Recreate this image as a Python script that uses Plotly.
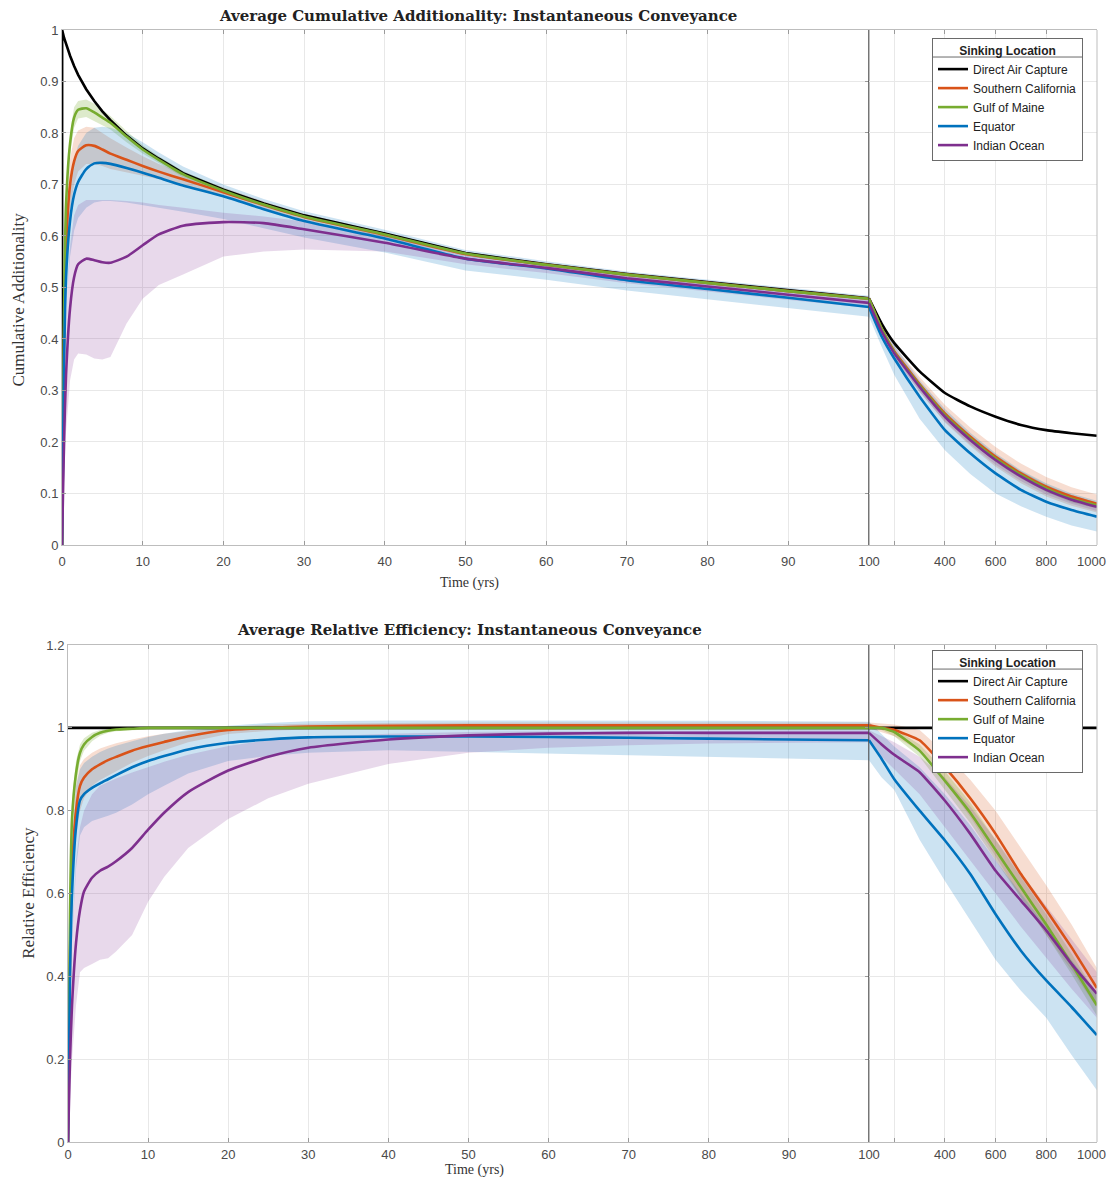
import plotly.graph_objects as go

# ---------------- data ----------------
locations = ["Direct Air Capture", "Southern California", "Gulf of Maine", "Equator", "Indian Ocean"]
line_colors = ["#000000", "#D95319", "#77AC30", "#0072BD", "#7E2F8E"]
band_colors = [None, "rgba(217,83,25,0.20)", "rgba(119,172,48,0.25)",
               "rgba(0,114,189,0.20)", "rgba(126,47,142,0.18)"]

t_early = [0, 0.25, 0.5, 1, 1.5, 2, 3, 4, 5, 6, 8, 10, 12, 15, 20, 25, 30, 40, 50, 60, 70, 80, 90, 100]
t_late = [100, 150, 200, 300, 400, 500, 600, 700, 800, 900, 1000]
t_dac = [0, 0.02, 0.25, 0.5, 1, 1.5, 2, 3, 4, 5, 6, 8, 10, 12, 15, 20, 25, 30, 40, 50, 60, 70, 80, 90, 100]

# ---- Panel 1: cumulative additionality ----
add_dac_early = [0, 1.0, 0.985, 0.972, 0.95, 0.93, 0.913, 0.885, 0.862, 0.842, 0.825, 0.795, 0.77, 0.75,
                 0.722, 0.69, 0.663, 0.64, 0.605, 0.567, 0.545, 0.526, 0.51, 0.494, 0.479]
add_dac_late = [0.479, 0.43, 0.392, 0.337, 0.295, 0.269, 0.249, 0.233, 0.223, 0.217, 0.212]

add_socal_early = [0, 0.4, 0.58, 0.7, 0.745, 0.765, 0.776, 0.775, 0.768, 0.76, 0.748, 0.736, 0.725, 0.71,
                   0.685, 0.66, 0.637, 0.602, 0.565, 0.544, 0.525, 0.509, 0.493, 0.478]
add_socal_late = [0.478, 0.42, 0.376, 0.312, 0.255, 0.21, 0.171, 0.139, 0.113, 0.094, 0.08]
add_socal_hi_early = [0, 0.45, 0.63, 0.75, 0.79, 0.805, 0.812, 0.81, 0.8, 0.79, 0.772, 0.755, 0.74, 0.722,
                      0.694, 0.667, 0.643, 0.607, 0.569, 0.548, 0.529, 0.513, 0.497, 0.482]
add_socal_lo_early = [0, 0.35, 0.53, 0.65, 0.7, 0.725, 0.74, 0.74, 0.736, 0.73, 0.724, 0.717, 0.71, 0.698,
                      0.676, 0.653, 0.631, 0.597, 0.561, 0.54, 0.521, 0.505, 0.489, 0.474]
add_socal_hi_late = [0.482, 0.428, 0.386, 0.326, 0.272, 0.228, 0.19, 0.158, 0.132, 0.112, 0.098]
add_socal_lo_late = [0.474, 0.412, 0.366, 0.298, 0.238, 0.192, 0.152, 0.12, 0.094, 0.076, 0.063]

add_gom_early = [0, 0.45, 0.66, 0.78, 0.83, 0.845, 0.848, 0.84, 0.83, 0.82, 0.793, 0.768, 0.748, 0.72,
                 0.688, 0.661, 0.638, 0.603, 0.566, 0.544, 0.525, 0.509, 0.493, 0.478]
add_gom_late = [0.478, 0.42, 0.374, 0.31, 0.252, 0.207, 0.168, 0.136, 0.11, 0.09, 0.077]
add_gom_hi_early = [0, 0.47, 0.68, 0.8, 0.85, 0.862, 0.865, 0.857, 0.845, 0.833, 0.804, 0.776, 0.755, 0.726,
                    0.693, 0.665, 0.642, 0.607, 0.569, 0.547, 0.528, 0.512, 0.496, 0.481]
add_gom_lo_early = [0, 0.43, 0.64, 0.76, 0.81, 0.828, 0.831, 0.823, 0.815, 0.807, 0.782, 0.76, 0.741, 0.714,
                    0.683, 0.657, 0.634, 0.599, 0.563, 0.541, 0.522, 0.506, 0.49, 0.475]
add_gom_hi_late = [0.481, 0.424, 0.379, 0.316, 0.259, 0.214, 0.175, 0.143, 0.117, 0.097, 0.083]
add_gom_lo_late = [0.475, 0.416, 0.369, 0.304, 0.245, 0.2, 0.161, 0.129, 0.103, 0.083, 0.071]

add_eq_early = [0, 0.35, 0.52, 0.63, 0.68, 0.705, 0.73, 0.741, 0.742, 0.74, 0.732, 0.723, 0.713, 0.698,
                0.677, 0.652, 0.629, 0.595, 0.556, 0.537, 0.514, 0.497, 0.48, 0.462]
add_eq_late = [0.462, 0.405, 0.362, 0.288, 0.223, 0.178, 0.139, 0.107, 0.084, 0.068, 0.055]
add_eq_hi_early = [0, 0.4, 0.58, 0.7, 0.75, 0.775, 0.8, 0.81, 0.812, 0.81, 0.8, 0.782, 0.762, 0.735,
                   0.7, 0.672, 0.648, 0.612, 0.573, 0.551, 0.531, 0.515, 0.499, 0.484]
add_eq_lo_early = [0, 0.3, 0.46, 0.56, 0.61, 0.635, 0.655, 0.665, 0.668, 0.668, 0.665, 0.66, 0.655, 0.647,
                   0.633, 0.615, 0.597, 0.568, 0.533, 0.515, 0.494, 0.477, 0.46, 0.443]
add_eq_hi_late = [0.484, 0.43, 0.388, 0.32, 0.264, 0.218, 0.178, 0.145, 0.12, 0.1, 0.086]
add_eq_lo_late = [0.443, 0.385, 0.33, 0.245, 0.184, 0.138, 0.1, 0.075, 0.055, 0.038, 0.026]

add_ind_early = [0, 0.2, 0.33, 0.46, 0.52, 0.545, 0.556, 0.553, 0.549, 0.548, 0.56, 0.582, 0.603, 0.62,
                 0.627, 0.625, 0.613, 0.587, 0.556, 0.538, 0.518, 0.502, 0.486, 0.47]
add_ind_late = [0.47, 0.415, 0.372, 0.307, 0.249, 0.204, 0.165, 0.133, 0.107, 0.088, 0.074]
add_ind_hi_early = [0, 0.3, 0.45, 0.58, 0.64, 0.66, 0.67, 0.67, 0.67, 0.67, 0.668, 0.665, 0.66, 0.655,
                    0.645, 0.638, 0.628, 0.6, 0.565, 0.546, 0.526, 0.51, 0.494, 0.478]
add_ind_lo_early = [0, 0.12, 0.22, 0.32, 0.36, 0.372, 0.37, 0.362, 0.36, 0.365, 0.43, 0.478, 0.505, 0.525,
                    0.56, 0.57, 0.574, 0.57, 0.545, 0.528, 0.508, 0.492, 0.476, 0.46]
add_ind_hi_late = [0.478, 0.423, 0.38, 0.316, 0.258, 0.213, 0.174, 0.142, 0.116, 0.096, 0.082]
add_ind_lo_late = [0.46, 0.405, 0.362, 0.297, 0.24, 0.195, 0.156, 0.124, 0.098, 0.08, 0.066]

# ---- Panel 2: relative efficiency ----
eff_dac_early = [1.0] * len(t_early)
eff_dac_late = [1.0] * len(t_late)

eff_socal_early = [0, 0.45, 0.65, 0.8, 0.86, 0.88, 0.9, 0.912, 0.922, 0.93, 0.945, 0.956, 0.966, 0.98,
                   0.995, 1.0, 1.003, 1.005, 1.006, 1.006, 1.006, 1.006, 1.006, 1.006]
eff_socal_late = [1.006, 1.0, 0.995, 0.97, 0.905, 0.83, 0.744, 0.647, 0.56, 0.47, 0.372]
eff_socal_hi_early = [0, 0.5, 0.72, 0.86, 0.91, 0.925, 0.94, 0.95, 0.957, 0.963, 0.972, 0.98, 0.986, 0.993,
                      1.003, 1.008, 1.01, 1.012, 1.013, 1.013, 1.013, 1.013, 1.013, 1.013]
eff_socal_lo_early = [0, 0.4, 0.58, 0.74, 0.8, 0.83, 0.86, 0.874, 0.886, 0.896, 0.916, 0.932, 0.946, 0.965,
                      0.985, 0.993, 0.996, 0.998, 0.999, 0.999, 0.999, 0.999, 0.999, 0.999]
eff_socal_hi_late = [1.013, 1.01, 1.008, 0.995, 0.94, 0.875, 0.8, 0.71, 0.62, 0.525, 0.42]
eff_socal_lo_late = [0.999, 0.99, 0.98, 0.945, 0.87, 0.785, 0.69, 0.59, 0.5, 0.415, 0.325]

eff_gom_early = [0, 0.55, 0.78, 0.89, 0.94, 0.96, 0.978, 0.988, 0.993, 0.996, 0.998, 1.0, 1.0, 1.0,
                 1.0, 1.0, 1.0, 1.0, 1.0, 1.0, 1.0, 1.0, 1.0, 1.0]
eff_gom_late = [1.0, 1.0, 0.99, 0.945, 0.872, 0.795, 0.705, 0.615, 0.525, 0.43, 0.33]
eff_gom_hi_early = [0, 0.6, 0.82, 0.92, 0.96, 0.975, 0.988, 0.995, 0.998, 1.0, 1.002, 1.003, 1.004, 1.004,
                    1.004, 1.004, 1.004, 1.004, 1.004, 1.004, 1.004, 1.004, 1.004, 1.004]
eff_gom_lo_early = [0, 0.5, 0.74, 0.86, 0.92, 0.945, 0.968, 0.981, 0.988, 0.992, 0.994, 0.996, 0.996, 0.996,
                    0.996, 0.996, 0.996, 0.996, 0.996, 0.996, 0.996, 0.996, 0.996, 0.996]
eff_gom_hi_late = [1.004, 1.003, 0.998, 0.96, 0.895, 0.82, 0.73, 0.64, 0.55, 0.455, 0.355]
eff_gom_lo_late = [0.996, 0.995, 0.98, 0.93, 0.85, 0.77, 0.68, 0.59, 0.5, 0.405, 0.305]

eff_eq_early = [0, 0.4, 0.6, 0.76, 0.825, 0.84, 0.855, 0.866, 0.876, 0.886, 0.905, 0.92, 0.932, 0.948,
                0.964, 0.972, 0.977, 0.979, 0.979, 0.978, 0.976, 0.974, 0.972, 0.97]
eff_eq_late = [0.97, 0.925, 0.876, 0.8, 0.728, 0.647, 0.55, 0.462, 0.39, 0.326, 0.258]
eff_eq_hi_early = [0, 0.5, 0.72, 0.86, 0.9, 0.915, 0.93, 0.942, 0.95, 0.957, 0.968, 0.978, 0.986, 0.995,
                   1.005, 1.012, 1.016, 1.018, 1.018, 1.018, 1.018, 1.017, 1.016, 1.015]
eff_eq_lo_early = [0, 0.3, 0.48, 0.66, 0.74, 0.76, 0.775, 0.782, 0.788, 0.795, 0.815, 0.84, 0.86, 0.89,
                   0.92, 0.932, 0.94, 0.946, 0.942, 0.938, 0.934, 0.93, 0.926, 0.922]
eff_eq_hi_late = [1.015, 0.985, 0.955, 0.905, 0.84, 0.765, 0.68, 0.6, 0.52, 0.44, 0.36]
eff_eq_lo_late = [0.922, 0.88, 0.85, 0.73, 0.63, 0.535, 0.44, 0.365, 0.3, 0.21, 0.125]

eff_ind_early = [0, 0.2, 0.33, 0.48, 0.56, 0.605, 0.638, 0.655, 0.665, 0.678, 0.71, 0.754, 0.795, 0.845,
                 0.897, 0.93, 0.952, 0.972, 0.982, 0.986, 0.988, 0.988, 0.988, 0.988]
eff_ind_late = [0.988, 0.96, 0.935, 0.893, 0.824, 0.744, 0.655, 0.583, 0.511, 0.43, 0.358]
eff_ind_hi_early = [0, 0.3, 0.5, 0.68, 0.76, 0.8, 0.84, 0.86, 0.87, 0.878, 0.892, 0.905, 0.918, 0.935,
                    0.956, 0.97, 0.978, 0.986, 0.99, 0.992, 0.993, 0.994, 0.994, 0.994]
eff_ind_lo_early = [0, 0.1, 0.2, 0.33, 0.41, 0.42, 0.43, 0.44, 0.444, 0.46, 0.5, 0.58, 0.64, 0.71,
                    0.78, 0.83, 0.865, 0.913, 0.94, 0.952, 0.958, 0.962, 0.964, 0.965]
eff_ind_hi_late = [0.994, 0.98, 0.965, 0.93, 0.88, 0.81, 0.73, 0.65, 0.57, 0.49, 0.41]
eff_ind_lo_late = [0.965, 0.93, 0.9, 0.84, 0.76, 0.68, 0.6, 0.52, 0.445, 0.37, 0.3]

x_ticks_left = [0, 10, 20, 30, 40, 50, 60, 70, 80, 90]
x_ticks_right = [100, 200, 400, 600, 800, 1000]
# trailing no-break spaces keep the last label inside the page edge
x_ticktext_right = ["100", "", "400", "600", "800", "1000\u00a0\u00a0\u00a0"]
y_ticks_top = [0, 0.1, 0.2, 0.3, 0.4, 0.5, 0.6, 0.7, 0.8, 0.9, 1.0]
y_ticktext_top = ["0", "0.1", "0.2", "0.3", "0.4", "0.5", "0.6", "0.7", "0.8", "0.9", "1"]
y_ticks_bot = [0, 0.2, 0.4, 0.6, 0.8, 1.0, 1.2]
y_ticktext_bot = ["0", "0.2", "0.4", "0.6", "0.8", "1", "1.2"]

# ---------------- figure ----------------
fig = go.Figure()

panel1 = {
    "early": [add_dac_early, add_socal_early, add_gom_early, add_eq_early, add_ind_early],
    "late": [add_dac_late, add_socal_late, add_gom_late, add_eq_late, add_ind_late],
    "hi_early": [None, add_socal_hi_early, add_gom_hi_early, add_eq_hi_early, add_ind_hi_early],
    "lo_early": [None, add_socal_lo_early, add_gom_lo_early, add_eq_lo_early, add_ind_lo_early],
    "hi_late": [None, add_socal_hi_late, add_gom_hi_late, add_eq_hi_late, add_ind_hi_late],
    "lo_late": [None, add_socal_lo_late, add_gom_lo_late, add_eq_lo_late, add_ind_lo_late],
    "xa": ("x", "x2"), "ya": "y", "legend": "legend",
}
panel2 = {
    "early": [eff_dac_early, eff_socal_early, eff_gom_early, eff_eq_early, eff_ind_early],
    "late": [eff_dac_late, eff_socal_late, eff_gom_late, eff_eq_late, eff_ind_late],
    "hi_early": [None, eff_socal_hi_early, eff_gom_hi_early, eff_eq_hi_early, eff_ind_hi_early],
    "lo_early": [None, eff_socal_lo_early, eff_gom_lo_early, eff_eq_lo_early, eff_ind_lo_early],
    "hi_late": [None, eff_socal_hi_late, eff_gom_hi_late, eff_eq_hi_late, eff_ind_hi_late],
    "lo_late": [None, eff_socal_lo_late, eff_gom_lo_late, eff_eq_lo_late, eff_ind_lo_late],
    "xa": ("x3", "x4"), "ya": "y2", "legend": "legend2",
}

for pi, p in enumerate([panel1, panel2]):
    xl, xr = p["xa"]
    # bands first
    for i in range(1, 5):
        for (tt, hi, lo, xa) in [(t_early, p["hi_early"][i], p["lo_early"][i], xl),
                                 (t_late, p["hi_late"][i], p["lo_late"][i], xr)]:
            fig.add_trace(go.Scatter(
                x=list(tt) + list(tt)[::-1], y=list(hi) + list(lo)[::-1],
                fill="toself", fillcolor=band_colors[i], line=dict(width=0),
                mode="lines", hoverinfo="skip", showlegend=False,
                xaxis=xa, yaxis=p["ya"]))
    # lines
    for i in range(5):
        if pi == 0 and i == 0:
            tt_e = t_dac
            shape = "linear"
        else:
            tt_e = t_early
            shape = "spline"
        fig.add_trace(go.Scatter(
            x=tt_e, y=p["early"][i], mode="lines", name=locations[i],
            line=dict(color=line_colors[i], width=2.6, shape=shape, smoothing=0.6),
            legend=p["legend"], showlegend=True, xaxis=xl, yaxis=p["ya"]))
        fig.add_trace(go.Scatter(
            x=t_late, y=p["late"][i], mode="lines", name=locations[i],
            line=dict(color=line_colors[i], width=2.6, shape="spline", smoothing=0.4),
            legend=p["legend"], showlegend=False, xaxis=xr, yaxis=p["ya"]))

W, H = 1100, 1169
X_SPLIT = 0.7797
grid = "#e8e8e8"
axline = "#bdbdbd"
tickfont = dict(family="Liberation Sans, Arial, sans-serif", size=13, color="#4a4a4a")

common_x = dict(showgrid=True, gridcolor=grid, gridwidth=1, showline=True, linecolor=axline,
                linewidth=1, mirror="ticks", ticks="inside", ticklen=4, tickcolor="#9a9a9a",
                zeroline=False, tickfont=tickfont, fixedrange=True, ticklabeloverflow="allow",
                automargin=False)
common_y = dict(showgrid=True, gridcolor=grid, gridwidth=1, showline=True, linecolor=axline,
                linewidth=1, mirror="ticks", ticks="inside", ticklen=4, tickcolor="#9a9a9a",
                zeroline=False, tickfont=tickfont, fixedrange=True, automargin=False)

fig.update_layout(
    width=W, height=H,
    margin=dict(l=54, r=11, t=22, b=35, pad=0, autoexpand=False),
    paper_bgcolor="white", plot_bgcolor="white",
    xaxis=dict(domain=[0, X_SPLIT], range=[0, 100], tickvals=x_ticks_left, anchor="y",
               ticklabelstandoff=4, **common_x),
    xaxis2=dict(domain=[X_SPLIT, 1], range=[100, 1000.5], tickvals=x_ticks_right,
                ticktext=x_ticktext_right, anchor="y", ticklabelstandoff=4, **common_x),
    yaxis=dict(domain=[0.5369, 1], range=[0, 1], tickvals=y_ticks_top, ticktext=y_ticktext_top,
               anchor="x", **common_y),
    xaxis3=dict(domain=[0.0058, X_SPLIT], range=[0, 100], tickvals=x_ticks_left, anchor="y2", **common_x),
    xaxis4=dict(domain=[X_SPLIT, 1], range=[100, 1000.5], tickvals=x_ticks_right,
                ticktext=x_ticktext_right, anchor="y2", **common_x),
    yaxis2=dict(domain=[0, 0.4469], range=[0, 1.2], tickvals=y_ticks_bot, ticktext=y_ticktext_bot,
                anchor="x3", **common_y),
    showlegend=True,
)

legend_font = dict(family="Liberation Sans, Arial, sans-serif", size=12, color="#222222")
legend_common = dict(
    xanchor="left", yanchor="top", bgcolor="rgba(255,255,255,0)", bordercolor="#6a6a6a", borderwidth=1,
    font=legend_font,
    title=dict(text="<b>Sinking Location</b>", side="top center", font=legend_font),
    itemwidth=30, tracegroupgap=0, traceorder="normal",
)
fig.update_layout(
    legend=dict(x=0.8406, y=0.9928, **legend_common),
    legend2=dict(x=0.8406, y=0.4424, **legend_common),
)

# legend backgrounds and title separators (paper coordinates of the legend boxes)
for (ytop, ybot, ysep) in [(0.9928, 0.8831, 0.9757), (0.4424, 0.3327, 0.4253)]:
    fig.add_shape(type="rect", xref="paper", yref="paper", x0=0.8406, x1=0.9855, y0=ybot, y1=ytop,
                  fillcolor="white", line=dict(width=0), layer="above")
    fig.add_shape(type="line", xref="paper", yref="paper", x0=0.8406, x1=0.9855, y0=ysep, y1=ysep,
                  line=dict(color="#6a6a6a", width=1), layer="above")

# divider at t = 100 and right border lines
for xa, ya in [("x", "y"), ("x3", "y2")]:
    fig.add_shape(type="line", xref=xa, yref=ya + " domain", x0=100, x1=100, y0=0, y1=1,
                  line=dict(color="#4a4a4a", width=1.5), layer="above")
for xa, ya in [("x2", "y"), ("x4", "y2")]:
    fig.add_shape(type="line", xref=xa + " domain", yref=ya + " domain", x0=1, x1=1, y0=0, y1=1,
                  line=dict(color=axline, width=1), layer="above")

title_font = dict(family="DejaVu Serif, serif", size=15, color="#222222")
label_font = dict(family="Liberation Serif, Times New Roman, serif", size=14, color="#333333")
ylabel_font = dict(family="Liberation Serif, Times New Roman, serif", size=17, color="#333333")
anns = [
    dict(text="<b>Average Cumulative Additionality: Instantaneous Conveyance</b>",
         x=0.4020, y=1.0125, font=title_font),
    dict(text="<b>Average Relative Efficiency: Instantaneous Conveyance</b>",
         x=0.3942, y=0.4604, font=title_font),
    dict(text="Time (yrs)", x=0.394, y=0.5027, font=label_font),
    dict(text="Time (yrs)", x=0.399, y=-0.0252, font=label_font),
    dict(text="Cumulative Additionality", x=-0.0420, y=0.7572, textangle=-90, font=ylabel_font),
    dict(text="Relative Efficiency", x=-0.0330, y=0.2239, textangle=-90, font=ylabel_font),
]
for a in anns:
    fig.add_annotation(xref="paper", yref="paper", showarrow=False, xanchor="center",
                       yanchor="middle", **a)

fig.write_html("out.html")
